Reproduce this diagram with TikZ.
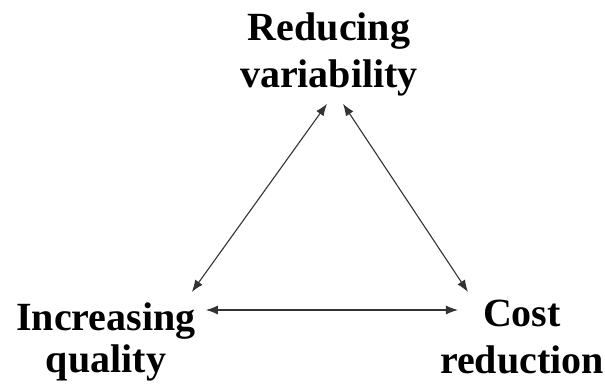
\documentclass[tikz,border=0pt]{standalone}
\usepackage{fontspec}
\setmainfont{Liberation Serif}
\usetikzlibrary{arrows.meta}
\begin{document}
\begin{tikzpicture}[x=1pt,y=-1pt,
  lbl/.style={inner sep=0pt, align=center, font=\fontsize{40}{47}\selectfont\bfseries, text=black},
  link/.style={draw=black!80, line width=1.1pt, {Latex[length=12pt,width=9pt]}-{Latex[length=12pt,width=9pt]}}]
\useasboundingbox (0,0) rectangle (605,385);
\node[lbl, anchor=north] (rv) at (329,13) {Reducing\\variability};
\node[lbl, anchor=north, font=\fontsize{40}{42}\selectfont\bfseries] (iq) at (106,303) {Increasing\\quality};
\node[lbl, anchor=north] (cr) at (522,300) {Cost\\reduction};
\draw[link] ([xshift=-2pt,yshift=-7pt]rv.south) -- ([xshift=-4pt,yshift=11pt]iq.north east);
\draw[link] ([xshift=14pt,yshift=-7pt]rv.south) -- ([xshift=28pt,yshift=8pt]cr.north west);
\draw[link] ([xshift=10pt,yshift=-7pt]iq.north east) -- ([xshift=18pt,yshift=-10pt]cr.north west);
\end{tikzpicture}
\end{document}
